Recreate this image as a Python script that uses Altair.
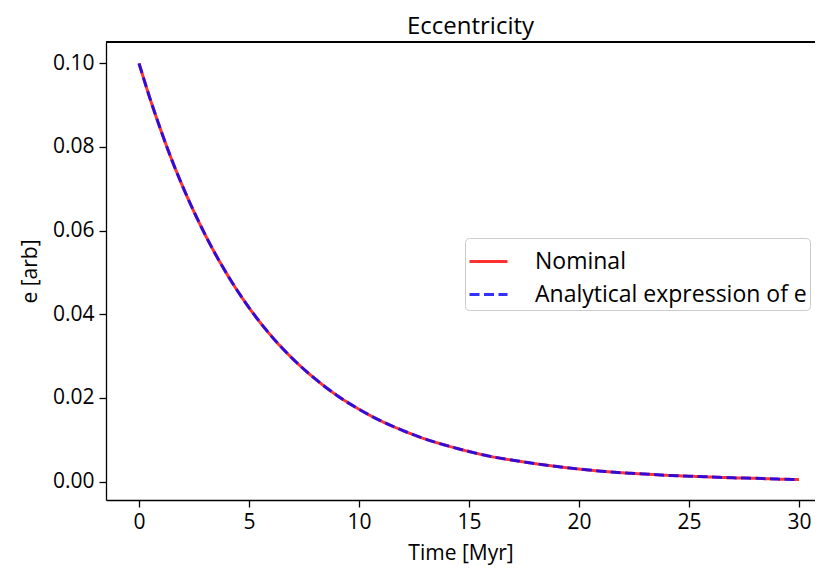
import altair as alt
import pandas as pd

time_myr = [0, 0.5, 1, 1.5, 2, 3, 4, 5, 6, 7, 8, 9, 10, 11, 12, 13, 14, 15, 16, 17, 18, 19, 20,
            21, 22, 23, 24, 25, 26, 27, 28, 29, 30]
e_nominal = [0.100, 0.0916, 0.0839, 0.0768, 0.0704, 0.0591, 0.0496, 0.0416, 0.0349, 0.0293,
             0.0246, 0.0206, 0.0173, 0.0145, 0.0122, 0.0102, 0.0086, 0.0072, 0.0060, 0.0051,
             0.0043, 0.0036, 0.0030, 0.0025, 0.0021, 0.0018, 0.0015, 0.0013, 0.0011, 0.0009,
             0.0008, 0.0006, 0.0005]
e_analytic = [0.100, 0.0916, 0.0839, 0.0768, 0.0704, 0.0591, 0.0496, 0.0416, 0.0349, 0.0293,
              0.0246, 0.0206, 0.0173, 0.0145, 0.0122, 0.0102, 0.0086, 0.0072, 0.0060, 0.0051,
              0.0043, 0.0036, 0.0030, 0.0025, 0.0021, 0.0018, 0.0015, 0.0013, 0.0011, 0.0009,
              0.0008, 0.0006, 0.0005]
series_names = ["Nominal", "Analytical expression of e"]
series_colors = ["#ff0000", "#0000ff"]
x_ticks = [0, 5, 10, 15, 20, 25, 30]
y_ticks = [0.00, 0.02, 0.04, 0.06, 0.08, 0.10]

rows = []
for t, v in zip(time_myr, e_nominal):
    rows.append({"t": t, "e": v, "series": series_names[0], "order": 0})
for t, v in zip(time_myr, e_analytic):
    rows.append({"t": t, "e": v, "series": series_names[1], "order": 1})
df = pd.DataFrame(rows)

FONT = "Open Sans"
W, H = 709, 458

x_enc = alt.X("t:Q", scale=alt.Scale(domain=[-1.5, 30.73], nice=False, zero=False),
              axis=alt.Axis(values=x_ticks, title="Time [Myr]", format="d", grid=False,
                            labelPadding=4, titlePadding=10))
y_enc = alt.Y("e:Q", scale=alt.Scale(domain=[-0.0044, 0.1051], nice=False, zero=False),
              axis=alt.Axis(values=y_ticks, title="e [arb]", format=".2f", grid=False,
                            labelPadding=5, titlePadding=12))

lines = alt.Chart(df).mark_line(strokeWidth=3, opacity=0.8, interpolate="monotone").encode(
    x=x_enc,
    y=y_enc,
    color=alt.Color("series:N", scale=alt.Scale(domain=series_names, range=series_colors),
                    legend=alt.Legend(title=None, orient="none", legendX=359, legendY=196,
                                      symbolType="stroke", symbolSize=1444, symbolStrokeWidth=3,
                                      labelFontSize=23, labelFont=FONT, labelColor="#000000",
                                      labelLimit=0, rowPadding=-4, padding=3,
                                      fillColor="rgba(255,255,255,0.8)",
                                      strokeColor="#cccccc", cornerRadius=4, symbolOpacity=0.8,
                                      labelOffset=26)),
    strokeDash=alt.StrokeDash("series:N",
                              scale=alt.Scale(domain=series_names, range=[[1, 0], [10, 4.5]]),
                              legend=None),
    order=alt.Order("order:Q"),
    detail="series:N",
)

top_border = alt.Chart(df).mark_rule(color="#000000", strokeWidth=1.3).encode(
    x=alt.value(0), x2=alt.value(W), y=alt.value(0)
)

chart = alt.layer(lines, top_border).properties(
    width=W, height=H,
    title=alt.Title("Eccentricity", fontSize=24, font=FONT, fontWeight="normal",
                    color="#000000", dx=10, offset=2),
    autosize=alt.AutoSizeParams(type="none"),
    padding={"left": 98, "top": 34, "right": 0, "bottom": 74},
).configure_view(stroke=None).configure_axis(
    labelFont=FONT, titleFont=FONT, labelFontSize=21, titleFontSize=21,
    titleFontWeight="normal", labelColor="#000000", titleColor="#000000",
    domainColor="#000000", tickColor="#000000", domainWidth=1.3, tickWidth=1.3, tickSize=7,
)

chart.save("out.html", embed_options={"renderer": "svg", "actions": False})
